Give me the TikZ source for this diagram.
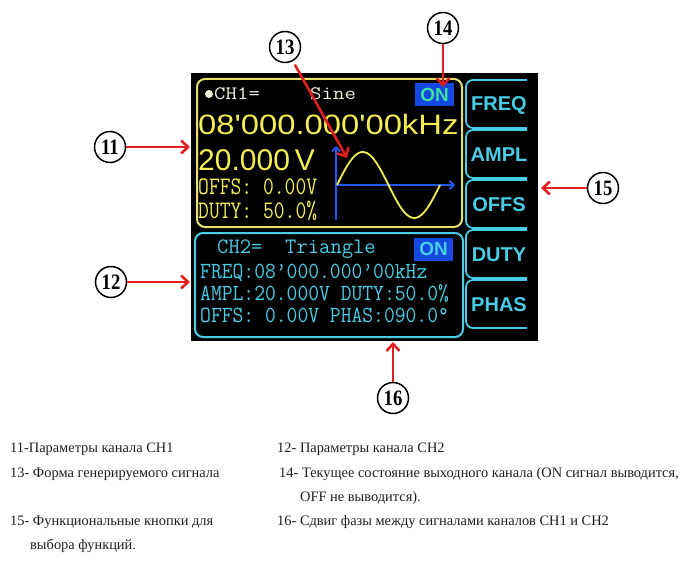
\documentclass[tikz,border=0pt]{standalone}
\usepackage{fontspec}
\usepackage{graphicx}
\setmainfont{Liberation Serif}
\newfontfamily\lsans{Liberation Sans}
\usetikzlibrary{arrows.meta}
\definecolor{lcdy}{HTML}{F2EE52}
\definecolor{lcdyb}{HTML}{E8E06C}
\definecolor{lcdc}{HTML}{48CDE6}
\definecolor{lcdw}{HTML}{F4F2D8}
\definecolor{onblue}{HTML}{1448E0}
\definecolor{ongreen}{HTML}{3CE0A0}
\definecolor{axisblue}{HTML}{2458F0}
\definecolor{arrred}{HTML}{E11F1F}
\newcommand{\mono}[1]{\ttfamily\addfontfeatures{FakeBold=2.5}\fontsize{#1}{#1}\selectfont}
\newcommand{\cnum}[1]{\scalebox{0.85}[1]{#1}}
\tikzset{
 numc/.style={circle, draw=black, line width=1.5pt, fill=white, minimum size=31pt, inner sep=0pt, font=\bfseries\fontsize{22}{22}\selectfont},
 redarr/.style={draw=arrred, line width=2.6pt, -{Straight Barb[length=7pt,width=13pt]}},
 lcdt/.style={inner sep=0pt, anchor=base west},
 btn/.style={draw=lcdc, line width=1.8pt, rounded corners=7pt},
 btntxt/.style={text=lcdc, font=\lsans\bfseries\fontsize{20}{20}\selectfont, inner sep=0pt},
 onbox/.style={fill=onblue, minimum width=39pt, minimum height=23pt, inner sep=0pt, font=\lsans\bfseries\fontsize{19}{19}\selectfont},
 legend/.style={inner sep=0pt, anchor=base west, font=\fontsize{14.4}{14.4}\selectfont, text=black!88},
 axis/.style={draw=axisblue, line width=1.8pt, -{Straight Barb[length=4pt,width=8pt]}},
}
\begin{document}
\begin{tikzpicture}[x=1pt,y=-1pt]
\useasboundingbox (0,0) rectangle (692,564);
% screen
\fill[black] (191,73) rectangle (538,341);
\draw[lcdyb, line width=2pt, rounded corners=8pt] (197,79) rectangle (462,227);
\draw[lcdc, line width=2pt, rounded corners=8pt] (195,233) rectangle (463,337);
% buttons
\foreach \t/\lab in {80/FREQ,130/AMPL,180/OFFS,230/DUTY,280/PHAS}{
  \draw[btn] (527,\t) -- (466,\t) -- (466,\t+48) -- (527,\t+48);
  \node[btntxt] (b\lab) at (499,\t+25) {\lab};
}
% CH1
\fill[lcdw] (209,94) circle (4);
\node[lcdt, text=lcdw, font=\mono{19}] (h1a) at (214,100) {\scalebox{1.17}[1]{CH1=}};
\node[lcdt, text=lcdw, font=\mono{19}] (h1b) at (310,100) {\scalebox{1.17}[1]{Sine}};
\node[onbox, text=ongreen] (on1) at (434.5,94.5) {ON};
\node[lcdt, text=lcdy, font=\lsans\fontsize{28}{28}\selectfont] (f1) at (198,135) {\scalebox{1.17}[1]{08\textquotesingle000.000\textquotesingle00kHz}};
\node[lcdt, text=lcdy, font=\lsans\fontsize{30}{30}\selectfont] (a1) at (198,170) {20.000\,V};
\node[lcdt, text=lcdy, font=\mono{21}] (o1) at (198,194) {\scalebox{1}[1.2]{OFFS: 0.00V}};
\node[lcdt, text=lcdy, font=\mono{21}] (d1) at (198,218) {\scalebox{1}[1.2]{DUTY: 50.0\%}};
% waveform
\draw[axis] (336,220) -- (336,146);
\draw[axis] (336,185) -- (455,185);
\draw[lcdy, line width=1.8pt] plot[domain=0:360, samples=72, smooth] ({337+103*(\x/360)},{185-33*sin(\x)});
% CH2
\node[lcdt, text=lcdc, font=\mono{22}] (h2) at (217,253) {CH2=\ \ Triangle};
\node[onbox, text=lcdc] (on2) at (433.5,249) {ON};
\node[lcdt, text=lcdc, font=\mono{21}] (f2) at (200,278) {\scalebox{1}[1.1]{FREQ:08’000.000’00kHz}};
\node[lcdt, text=lcdc, font=\mono{21}] (a2) at (200,300) {\scalebox{1}[1.1]{AMPL:20.000V DUTY:50.0\%}};
\node[lcdt, text=lcdc, font=\mono{21}] (o2) at (200,322) {\scalebox{1}[1.1]{OFFS: 0.00V PHAS:090.0°}};
% callouts
\node[numc] (c11) at (110,147) {\cnum{11}};
\node[numc] (c12) at (111,282) {\cnum{12}};
\node[numc] (c13) at (285,47) {\cnum{13}};
\node[numc] (c14) at (443,28) {\cnum{14}};
\node[numc] (c15) at (603,188) {\cnum{15}};
\node[numc] (c16) at (393,398) {\cnum{16}};
\coordinate (t11) at (190,147);
\coordinate (t12) at (190,282);
\coordinate (t13) at (347,158);
\coordinate (t14) at (443,87);
\coordinate (t15) at (541,188);
\coordinate (t16) at (393,342);
\draw[redarr] (c11) -- (t11);
\draw[redarr] (c12) -- (t12);
\draw[redarr, shorten <=4pt] (c13) -- (t13);
\draw[redarr] (c14) -- (t14);
\draw[redarr] (c15) -- (t15);
\draw[redarr] (c16) -- (t16);
% legend
\node[legend] (l11) at (10,452) {11-Параметры канала CH1};
\node[legend] (l12) at (277,452) {12- Параметры канала CH2};
\node[legend] (l13) at (10,477) {13- Форма генерируемого сигнала};
\node[legend] (l14) at (279,477) {14- Текущее состояние выходного канала (ON сигнал выводится,};
\node[legend] (l14b) at (300,501) {OFF не выводится).};
\node[legend] (l15) at (10,525) {15- Функциональные кнопки для};
\node[legend] (l15b) at (30,549) {выбора функций.};
\node[legend] (l16) at (277,525) {16- Сдвиг фазы между сигналами каналов CH1 и CH2};
\end{tikzpicture}
\end{document}
